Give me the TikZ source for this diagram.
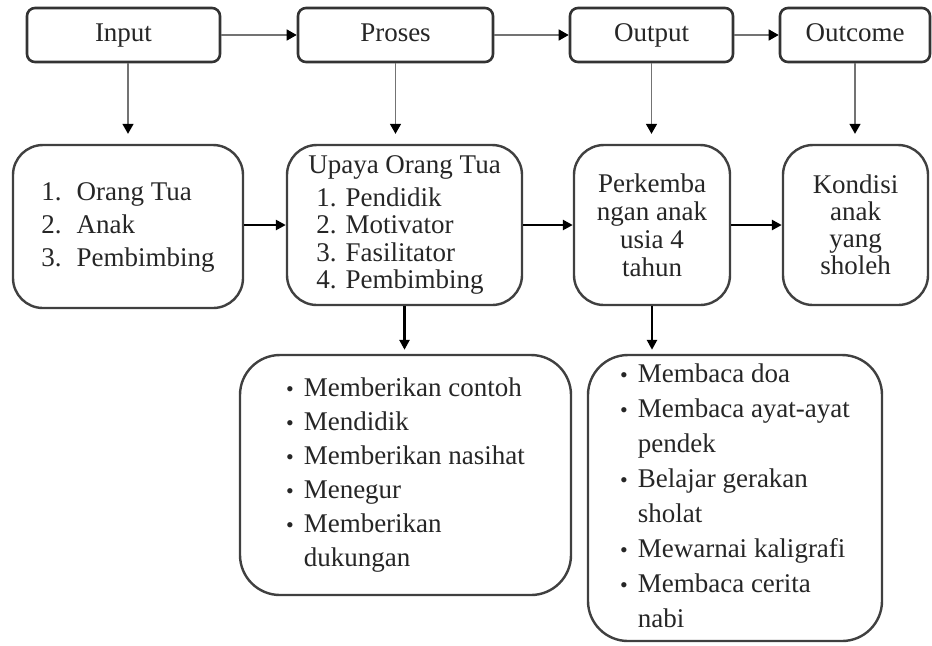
\documentclass[tikz,border=0pt]{standalone}
\usepackage{fontspec}
\setmainfont{Liberation Serif}
\usetikzlibrary{arrows.meta}

\newcommand{\dotitem}{{\fontsize{11}{11}\selectfont\textbullet}}

\begin{document}
\begin{tikzpicture}[x=0.5pt,y=-0.5pt,
  every node/.style={font=\fontsize{13.5}{16.5}\selectfont, text=black!85},
  topbox/.style={draw=black!80, line width=1.3pt, rounded corners=4pt, minimum height=27pt, inner sep=0pt, text height=9.5pt, text depth=3pt},
  midbox/.style={draw=black!75, line width=1.2pt, rounded corners=15pt, minimum height=80pt, inner sep=0pt, align=center},
  listbox/.style={draw=black!75, line width=1.2pt, rounded corners=20pt, inner sep=0pt},
  thinarrow/.style={draw=black!55, line width=0.7pt, -{Triangle[length=5pt,width=5.5pt,black]}},
  thickarrow/.style={draw=black, line width=1.3pt, -{Triangle[length=5pt,width=5pt]}}]
  \useasboundingbox[fill=white] (0,0) rectangle (932,645);

  \node[topbox, minimum width=96.5pt] (inp) at (123.5,35) {Input};
  \node[topbox, minimum width=97.5pt] (pros) at (395.5,35) {Proses};
  \node[topbox, minimum width=81.5pt] (outp) at (651.5,35) {Output};
  \node[topbox, minimum width=75pt] (outc) at (855,35) {Outcome};

  \node[midbox, minimum width=115pt, minimum height=81.5pt] (b1) at (128,226.5)
    {\begin{tabular}{@{}l@{\hspace{7.5pt}}l@{}}1. & Orang Tua\\ 2. & Anak\\ 3. & Pembimbing\end{tabular}};
  \node[midbox, minimum width=117.5pt, align=left, font=\fontsize{13.5}{13.75}\selectfont] (upaya) at (404.5,225)
    {Upaya Orang Tua\\[2.5pt]\hspace*{4pt}1. Pendidik\\ \hspace*{4pt}2. Motivator\\ \hspace*{4pt}3. Fasilitator\\ \hspace*{4pt}4. Pembimbing};
  \node[midbox, minimum width=78pt, font=\fontsize{13.5}{14}\selectfont] (perk) at (652,225)
    {Perkemba\\ngan anak\\usia 4\\tahun};
  \node[midbox, minimum width=72.5pt, font=\fontsize{13.5}{13.5}\selectfont] (kond) at (855.5,225)
    {Kondisi\\anak\\yang\\sholeh};

  \node[listbox, minimum width=165.5pt, minimum height=120pt, font=\fontsize{13.5}{17}\selectfont] (bot1) at (405.5,475)
    {\begin{tabular}{@{}l@{\hspace{5pt}}l@{}}
      \dotitem & Memberikan contoh\\
      \dotitem & Mendidik\\
      \dotitem & Memberikan nasihat\\
      \dotitem & Menegur\\
      \dotitem & Memberikan\\
               & dukungan
    \end{tabular}};
  \node[listbox, minimum width=147pt, minimum height=143pt, font=\fontsize{13.5}{17.5}\selectfont] (bot2) at (735,498)
    {\begin{tabular}{@{}l@{\hspace{5pt}}l@{}}
      \dotitem & Membaca doa\\
      \dotitem & Membaca ayat-ayat\\
               & pendek\\
      \dotitem & Belajar gerakan\\
               & sholat\\
      \dotitem & Mewarnai kaligrafi\\
      \dotitem & Membaca cerita\\
               & nabi
    \end{tabular}};

  \draw[thinarrow] (inp) -- (pros);
  \draw[thinarrow] (pros) -- (outp);
  \draw[thinarrow] (outp) -- (outc);
  \draw[thinarrow, shorten >=5pt] (b1.north |- inp.south) -- (b1.north);
  \draw[thinarrow, shorten >=5pt] (pros.south) -- (pros.south |- upaya.north);
  \draw[thinarrow, shorten >=5pt] (outp.south) -- (outp.south |- perk.north);
  \draw[thinarrow, shorten >=5pt] (outc.south) -- (outc.south |- kond.north);

  \draw[thickarrow] (upaya.west -| b1.east) -- (upaya.west);
  \draw[thickarrow] (upaya) -- (perk);
  \draw[thickarrow] (perk) -- (kond);
  \draw[thickarrow, shorten >=2pt] (upaya.south) -- (upaya.south |- bot1.north);
  \draw[thickarrow, shorten >=2pt] (perk.south) -- (perk.south |- bot2.north);
\end{tikzpicture}
\end{document}
